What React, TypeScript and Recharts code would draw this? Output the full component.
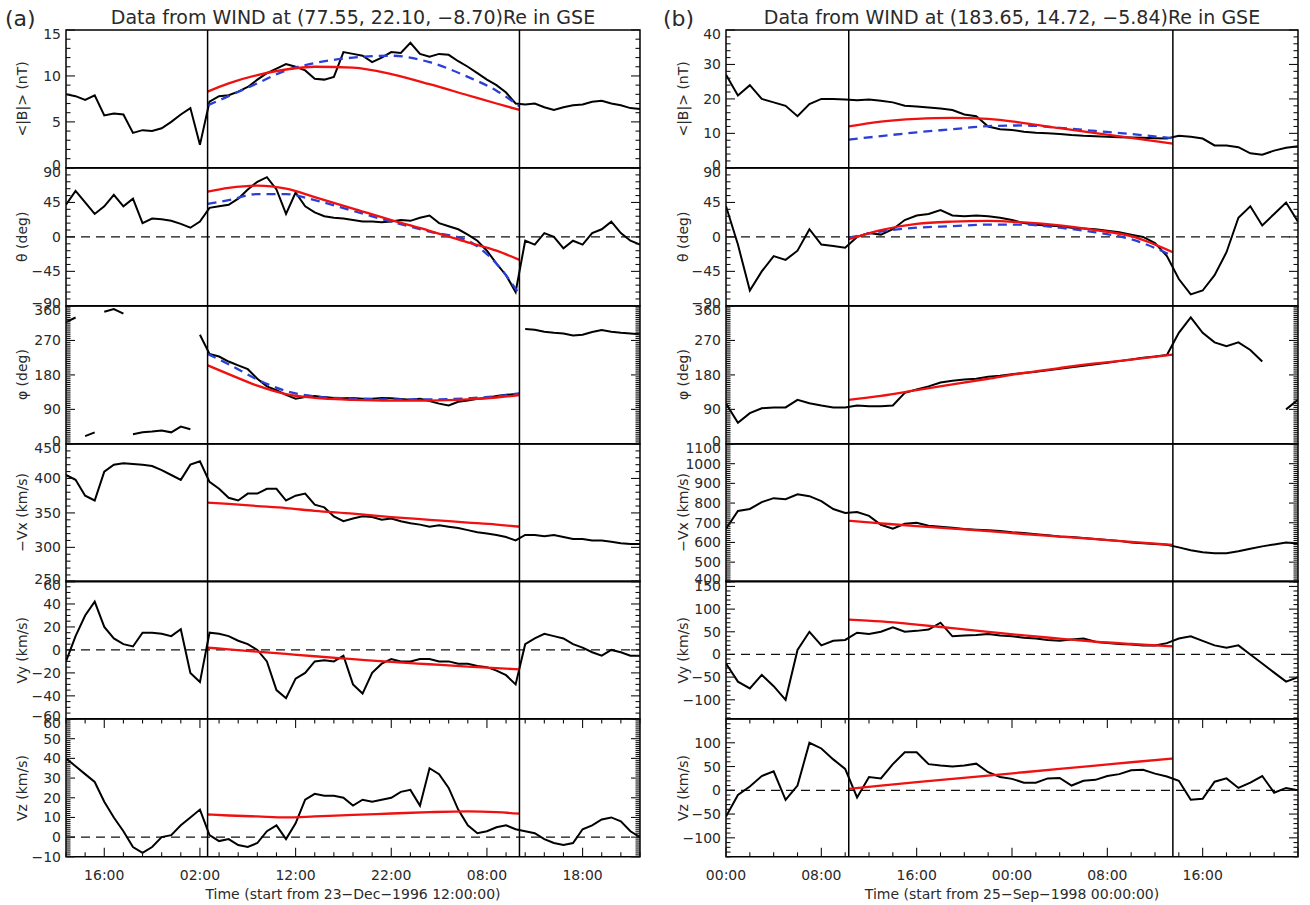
import React from 'react';
import { ComposedChart, Line, XAxis, YAxis, ReferenceLine, ReferenceArea } from 'recharts';

// ---------------- time grids (hours) ----------------
// (a) hours since 23-Dec-1996 12:00:00 ; (b) hours since 25-Sep-1998 00:00:00
const hoursA: number[] = Array.from({ length: 61 }, (_, i) => i);
const hoursB: number[] = Array.from({ length: 49 }, (_, i) => i);
const fitHoursA = [14.8, 17, 20, 23, 26, 30, 34, 38, 42, 45, 47.4];
const fitHoursB = [10.3, 13, 16, 19, 22, 25, 28, 31, 34, 37.5];
const mcBoundsA = [14.8, 47.4];
const mcBoundsB = [10.3, 37.5];

// ---------------- x tick labels ----------------
const xMajorA = [4, 14, 24, 34, 44, 54];
const xLabelsA = ['16:00', '02:00', '12:00', '22:00', '08:00', '18:00'];
const xMajorB = [0, 8, 16, 24, 32, 40, 48];
const xLabelsB = ['00:00', '08:00', '16:00', '00:00', '08:00', '16:00', ''];

// ---------------- (a) observed ----------------
const bA = [8.0, 7.8, 7.4, 7.9, 5.7, 5.9, 5.8, 3.8, 4.1, 4.0,
  4.3, 5.0, 5.8, 6.5, 2.5, 7.2, 7.8, 7.9, 8.3, 8.8,
  9.6, 10.3, 10.8, 11.3, 11.0, 10.6, 9.7, 9.6, 9.9, 12.6,
  12.4, 12.2, 11.5, 12.0, 12.6, 12.5, 13.6, 12.4, 12.1, 12.4,
  12.3, 11.6, 11.0, 10.3, 9.6, 9.0, 8.2, 7.0, 6.9, 7.0,
  6.6, 6.3, 6.6, 6.8, 6.9, 7.2, 7.3, 7.0, 6.8, 6.5, 6.4];
const thetaA = [42, 60, 45, 30, 40, 55, 40, 50, 18, 24,
  23, 21, 17, 12, 20, 38, 40, 42, 50, 62,
  72, 78, 62, 30, 58, 40, 32, 27, 25, 24,
  22, 20, 20, 19, 20, 22, 21, 25, 28, 18,
  14, 10, 3, -5, -18, -35, -50, -72, -5, -10,
  5, 0, -15, -5, -10, 5, 10, 20, 5, -5, -10];
const phiHighA = [318, 330, null, null, 345, 352, 340, null, null, null,
  null, null, null, null, 285, 235, 228, 215, 205, 195,
  170, 150, 140, 128, 118, 122, 125, 122, 120, 119,
  120, 118, 118, 120, 119, 117, 115, 118, 112, 105,
  100, 110, 113, 118, 120, 125, 128, null, 300, 298,
  293, 290, 288, 283, 285, 292, 297, 293, 290, 288, 286];
const phiLowA = [null, null, 20, 30, null, null, null, 25, 30, 32,
  35, 30, 45, 38, null, null, null, null, null, null,
  null, null, null, null, null, null, null, null, null, null,
  null, null, null, null, null, null, null, null, null, null,
  null, null, null, null, null, null, 128, 130, null, null,
  null, null, null, null, null, null, null, null, null, null, null];
const vxA = [405, 398, 375, 368, 410, 420, 422, 421, 420, 418,
  412, 405, 398, 420, 425, 395, 385, 372, 368, 378,
  378, 385, 385, 368, 375, 378, 362, 358, 345, 338,
  342, 345, 344, 340, 342, 338, 335, 333, 330, 332,
  330, 328, 325, 322, 320, 318, 315, 310, 318, 318,
  316, 318, 315, 312, 312, 310, 310, 308, 306, 305, 305];
const vyA = [-10, 12, 30, 42, 20, 10, 5, 3, 15, 15,
  14, 12, 18, -20, -28, 15, 14, 12, 8, 5,
  0, -10, -35, -42, -25, -20, -10, -9, -10, -5,
  -30, -38, -20, -12, -8, -10, -10, -8, -8, -10,
  -10, -12, -12, -14, -15, -18, -22, -30, 5, 10,
  14, 12, 10, 5, 2, -2, -5, 0, -2, -5, -5];
const vzA = [40, 36, 32, 28, 18, 10, 3, -5, -8, -5,
  0, 1, 6, 10, 14, 1, -2, -1, -4, -5,
  -3, 3, 6, -1, 7, 19, 22, 21, 21, 20,
  16, 19, 18, 19, 20, 23, 24, 16, 35, 32,
  25, 14, 6, 2, 3, 5, 6, 4, 3, 2,
  -1, -3, -4, -3, 4, 6, 9, 10, 8, 3, 0];

// ---------------- (a) fits ----------------
const bRedA = [8.3, 9.2, 10.1, 10.7, 11.0, 10.9, 10.2, 9.1, 7.9, 7.0, 6.3];
const bBlueA = [6.8, 7.8, 9.2, 10.6, 11.4, 12.0, 12.2, 11.5, 9.9, 8.4, 6.7];
const thetaRedA = [59, 64, 67, 63, 52, 37, 22, 8, -7, -18, -30];
const thetaBlueA = [43, 48, 56, 56, 48, 34, 20, 7, -5, -35, -75];
const phiRedA = [205, 182, 152, 130, 120, 115, 113, 113, 116, 121, 127];
const phiBlueA = [235, 208, 168, 138, 124, 118, 116, 116, 119, 124, 132];
const vxRedA = [365, 363, 360, 357, 353, 349, 344, 340, 336, 333, 330];
const vyRedA = [2, 0.5, -1.5, -3.5, -5.5, -8, -10.5, -12.5, -14.5, -15.8, -17];
const vzRedA = [11.5, 11.0, 10.5, 10.0, 10.5, 11.3, 12.0, 12.7, 13.1, 12.7, 11.9];

// ---------------- (b) observed ----------------
const bB = [27, 21, 24, 20, 19, 18, 15, 18.5, 20, 20,
  19.8, 19.6, 19.8, 19.5, 19, 18, 17.8, 17.5, 17.2, 16.8,
  15.5, 15, 12, 11.2, 11, 10.5, 10.2, 10, 9.8, 9.5,
  9.3, 9.2, 9.0, 8.9, 8.8, 8.7, 8.6, 8.5, 9.3, 9.0,
  8.5, 6.5, 6.5, 6.0, 4.2, 3.8, 5.0, 5.8, 6.3];
const thetaB = [40, -10, -70, -45, -25, -30, -18, 10, -10, -12,
  -14, 0, 5, 3, 10, 22, 28, 30, 35, 28,
  27, 28, 27, 25, 22, 18, 16, 15, 14, 12,
  11, 10, 8, 6, 3, 0, -8, -25, -55, -75,
  -70, -50, -20, 25, 40, 15, 30, 45, 20];
const phiB = [105, 55, 80, 93, 95, 95, 115, 106, 100, 95,
  95, 100, 98, 98, 100, 133, 142, 150, 160, 165,
  168, 170, 175, 178, 182, 185, 188, 192, 196, 200,
  204, 208, 212, 216, 220, 225, 228, 232, 290, 330,
  290, 265, 255, 265, 245, 215, null, 90, 115];
const vxB = [670, 760, 770, 805, 825, 820, 845, 835, 810, 770,
  750, 755, 735, 690, 670, 695, 700, 685, 680, 675,
  668, 665, 662, 658, 652, 648, 642, 636, 630, 628,
  622, 618, 612, 608, 600, 596, 592, 588, 575, 560,
  550, 545, 545, 555, 568, 580, 590, 600, 595];
const vyB = [-20, -60, -75, -45, -70, -100, 10, 50, 20, 30,
  32, 48, 45, 50, 60, 50, 52, 55, 70, 40,
  42, 43, 45, 42, 40, 37, 35, 32, 30, 33,
  35, 28, 25, 23, 22, 20, 20, 25, 35, 40,
  30, 20, 15, 20, 0, -20, -40, -60, -50];
const vzB = [-55, -10, 8, 30, 40, -20, 10, 100, 88, 65,
  45, -15, 28, 25, 55, 80, 80, 55, 52, 50,
  52, 56, 38, 28, 24, 16, 16, 25, 26, 10,
  20, 22, 30, 34, 42, 43, 35, 29, 20, -20,
  -18, 18, 25, 5, 16, 30, -5, 5, 0];

// ---------------- (b) fits ----------------
const bRedB = [12, 13.4, 14.2, 14.5, 14.2, 13, 11.5, 10.1, 8.7, 7.0];
const bBlueB = [8.2, 9.2, 10.3, 11.2, 12.1, 12.3, 11.6, 10.7, 9.8, 8.6];
const thetaRedB = [-3, 9, 17, 20, 21, 19, 15, 9, 1, -20];
const thetaBlueB = [-1, 7, 12, 14, 16, 16, 12, 6, -3, -25];
const phiRedB = [115, 125, 140, 155, 170, 185, 198, 210, 220, 233];
const vxRedB = [710, 697, 683, 670, 657, 643, 630, 617, 603, 588];
const vyRedB = [77, 73, 66, 58, 50, 42, 35, 28, 23, 18];
const vzRedB = [3, 10, 17, 24, 31, 38, 45, 52, 59, 67];

// ---------------- y tick labels ----------------
const yMajorB1 = [0, 5, 10, 15];
const yMajorAng = [-90, -45, 0, 45, 90];
const yMajorPhi = [0, 90, 180, 270, 360];
const yMajorVxA = [250, 300, 350, 400, 450];
const yMajorVyA = [-60, -40, -20, 0, 20, 40, 60];
const yMajorVzA = [-10, 0, 10, 20, 30, 40, 50, 60];
const yMajorBB = [0, 10, 20, 30, 40];
const yMajorVxB = [400, 500, 600, 700, 800, 900, 1000, 1100];
const yMajorVyB = [-100, -50, 0, 50, 100, 150];
const yMajorVzB = [-100, -50, 0, 50, 100];

const yTitles = ['<|B|> (nT)', '\u03b8 (deg)', '\u03c6 (deg)', '\u2212Vx (km/s)', 'Vy (km/s)', 'Vz (km/s)'];

// ---------------- layout ----------------
const FONT = "'DejaVu Sans', sans-serif";
const TXT = '#2a2a2a';
const TOP = 30;
const BOTTOM = 857;
const PANEL_H = (BOTTOM - TOP) / 6;
const COLS = [
  { plotLeft: 66, plotRight: 640, xDomain: [0, 60] as [number, number], xStep: 2 },
  { plotLeft: 726, plotRight: 1298, xDomain: [0, 48] as [number, number], xStep: 2 },
];
const AXIS_W = 60;
const PAD = 10;
const XLAB_H = 30;

type Spec = {
  domain: [number, number];
  major: number[];
  minorStep: number;
  obs: (number | null)[][];
  red?: number[];
  blue?: number[];
  zero?: boolean;
};

const fmt = (v: number) => (v < 0 ? '\u2212' + Math.abs(v) : String(v));

function minorTicks(domain: [number, number], step: number): number[] {
  const start = Math.ceil(domain[0] / step);
  const end = Math.floor(domain[1] / step);
  const out: number[] = [];
  for (let k = start; k <= end; k++) out.push(Math.round(k * step * 1000) / 1000);
  return out;
}

function Panel({ colIdx, row, spec }: { colIdx: number; row: number; spec: Spec }) {
  const col = COLS[colIdx];
  const plotW = col.plotRight - col.plotLeft;
  const last = row === 5;
  const top = TOP + row * PANEL_H;
  const width = AXIS_W + plotW + PAD;
  const height = PAD + PANEL_H + (last ? XLAB_H + PAD : PAD);
  const hours = colIdx === 0 ? hoursA : hoursB;
  const fitHours = colIdx === 0 ? fitHoursA : fitHoursB;
  const bounds = colIdx === 0 ? mcBoundsA : mcBoundsB;
  const xMajor = colIdx === 0 ? xMajorA : xMajorB;
  const xLabels = colIdx === 0 ? xLabelsA : xLabelsB;

  const yTicks = Array.from(new Set([...minorTicks(spec.domain, spec.minorStep), ...spec.major])).sort((a, b) => a - b);
  const xTicks = minorTicks(col.xDomain, col.xStep);

  const obsData = spec.obs.map((arr) => hours.map((t, i) => ({ t, v: arr[i] })));
  const redData = spec.red ? fitHours.map((t, i) => ({ t, v: spec.red![i] })) : null;
  const blueData = spec.blue ? fitHours.map((t, i) => ({ t, v: spec.blue![i] })) : null;

  const YTick = (p: any) => {
    const { x, y, payload } = p;
    const idx = spec.major.findIndex((m) => Math.abs(m - payload.value) < 1e-6);
    const len = idx >= 0 ? 9 : 4.5;
    let nudge = 0;
    if (idx >= 0 && Math.abs(payload.value - spec.domain[1]) < 1e-6) nudge = 4;
    if (idx >= 0 && !last && Math.abs(payload.value - spec.domain[0]) < 1e-6) nudge = -3;
    return (
      <g>
        <line x1={x} x2={x + len} y1={y} y2={y} stroke="#111" strokeWidth={1.1} />
        <line x1={x + plotW} x2={x + plotW - len} y1={y} y2={y} stroke="#111" strokeWidth={1.1} />
        {idx >= 0 && (
          <text x={x - 5} y={y + nudge} dy="0.36em" textAnchor="end" fontSize={14} fill={TXT} fontFamily={FONT}>
            {fmt(spec.major[idx])}
          </text>
        )}
      </g>
    );
  };

  const XTick = (p: any) => {
    const { x, y, payload } = p;
    const idx = xMajor.findIndex((m) => Math.abs(m - payload.value) < 1e-6);
    const len = idx >= 0 ? 9 : 4.5;
    return (
      <g>
        <line x1={x} x2={x} y1={y} y2={y - len} stroke="#111" strokeWidth={1.1} />
        <line x1={x} x2={x} y1={y - PANEL_H} y2={y - PANEL_H + len} stroke="#111" strokeWidth={1.1} />
        {last && idx >= 0 && xLabels[idx] !== '' && (
          <text x={x} y={y + 23} textAnchor="middle" fontSize={14} fill={TXT} fontFamily={FONT}>
            {xLabels[idx]}
          </text>
        )}
      </g>
    );
  };

  return (
    <div style={{ position: 'absolute', left: col.plotLeft - AXIS_W, top: top - PAD, width, height }}>
      <ComposedChart width={width} height={height} margin={{ top: PAD, right: PAD, bottom: PAD, left: 0 }}>
        <XAxis
          type="number"
          dataKey="t"
          domain={col.xDomain}
          ticks={xTicks}
          interval={0}
          allowDataOverflow
          height={last ? XLAB_H : 0}
          axisLine={false}
          tickLine={false}
          tickSize={0}
          tickMargin={0}
          tick={XTick}
        />
        <YAxis
          type="number"
          domain={spec.domain}
          ticks={yTicks}
          interval={0}
          allowDataOverflow
          width={AXIS_W}
          axisLine={false}
          tickLine={false}
          tickSize={0}
          tickMargin={0}
          tick={YTick}
        />
        {spec.zero && <ReferenceLine y={0} stroke="#111" strokeWidth={1.3} strokeDasharray="9 6" />}
        {obsData.map((d, i) => (
          <Line
            key={'o' + i}
            data={d}
            dataKey="v"
            type="linear"
            stroke="#000"
            strokeWidth={2}
            dot={false}
            connectNulls={false}
            isAnimationActive={false}
          />
        ))}
        {blueData && (
          <Line data={blueData} dataKey="v" type="monotone" stroke="#2a3fd8" strokeWidth={2.3} strokeDasharray="9 6" dot={false} isAnimationActive={false} />
        )}
        {redData && (
          <Line data={redData} dataKey="v" type="monotone" stroke="#f01010" strokeWidth={2.3} dot={false} isAnimationActive={false} />
        )}
        {bounds.map((b) => (
          <ReferenceLine key={'v' + b} x={b} stroke="#000" strokeWidth={1.5} />
        ))}
        <ReferenceArea
          x1={col.xDomain[0]}
          x2={col.xDomain[1]}
          y1={spec.domain[0]}
          y2={spec.domain[1]}
          fill="none"
          fillOpacity={0}
          stroke="#000"
          strokeWidth={1.5}
          ifOverflow="visible"
        />
      </ComposedChart>
    </div>
  );
}

const specsA: Spec[] = [
  { domain: [0, 15], major: yMajorB1, minorStep: 1, obs: [bA], red: bRedA, blue: bBlueA },
  { domain: [-90, 90], major: yMajorAng, minorStep: 9, obs: [thetaA], red: thetaRedA, blue: thetaBlueA, zero: true },
  { domain: [0, 360], major: yMajorPhi, minorStep: 5, obs: [phiHighA, phiLowA], red: phiRedA, blue: phiBlueA },
  { domain: [250, 450], major: yMajorVxA, minorStep: 10, obs: [vxA], red: vxRedA },
  { domain: [-60, 60], major: yMajorVyA, minorStep: 5, obs: [vyA], red: vyRedA, zero: true },
  { domain: [-10, 60], major: yMajorVzA, minorStep: 1, obs: [vzA], red: vzRedA, zero: true },
];
const specsB: Spec[] = [
  { domain: [0, 40], major: yMajorBB, minorStep: 2, obs: [bB], red: bRedB, blue: bBlueB },
  { domain: [-90, 90], major: yMajorAng, minorStep: 9, obs: [thetaB], red: thetaRedB, blue: thetaBlueB, zero: true },
  { domain: [0, 360], major: yMajorPhi, minorStep: 5, obs: [phiB], red: phiRedB },
  { domain: [400, 1100], major: yMajorVxB, minorStep: 10, obs: [vxB], red: vxRedB },
  { domain: [-142, 162], major: yMajorVyB, minorStep: 10, obs: [vyB], red: vyRedB, zero: true },
  { domain: [-140, 150], major: yMajorVzB, minorStep: 10, obs: [vzB], red: vzRedB, zero: true },
];

export default function App() {
  const labelX = [22, 683];
  const centers = [(COLS[0].plotLeft + COLS[0].plotRight) / 2, (COLS[1].plotLeft + COLS[1].plotRight) / 2];
  return (
    <div style={{ position: 'absolute', left: 0, top: 0, width: 1310, height: 905, background: '#fff', overflow: 'hidden' }}>
      {specsA.map((s, r) => (
        <Panel key={'a' + r} colIdx={0} row={r} spec={s} />
      ))}
      {specsB.map((s, r) => (
        <Panel key={'b' + r} colIdx={1} row={r} spec={s} />
      ))}
      <svg width={1310} height={905} style={{ position: 'absolute', left: 0, top: 0, pointerEvents: 'none' }}>
        <text x={5} y={26} fontSize={22} fill={TXT} fontFamily={FONT}>(a)</text>
        <text x={centers[0]} y={24} fontSize={19} fill={TXT} fontFamily={FONT} textAnchor="middle">
          Data from WIND at (77.55, 22.10, {'\u2212'}8.70)Re in GSE
        </text>
        <text x={663} y={26} fontSize={22} fill={TXT} fontFamily={FONT}>(b)</text>
        <text x={centers[1]} y={24} fontSize={19} fill={TXT} fontFamily={FONT} textAnchor="middle">
          Data from WIND at (183.65, 14.72, {'\u2212'}5.84)Re in GSE
        </text>
        {[0, 1].map((c) =>
          yTitles.map((t, r) => {
            const cy = TOP + (r + 0.5) * PANEL_H;
            return (
              <text
                key={c + '-' + r}
                x={labelX[c]}
                y={cy}
                fontSize={14}
                fill={TXT}
                fontFamily={FONT}
                textAnchor="middle"
                dominantBaseline="central"
                transform={`rotate(-90 ${labelX[c]} ${cy})`}
              >
                {t}
              </text>
            );
          })
        )}
        <text x={centers[0]} y={899} fontSize={14} fill={TXT} fontFamily={FONT} textAnchor="middle">
          Time (start from 23{'\u2212'}Dec{'\u2212'}1996 12:00:00)
        </text>
        <text x={centers[1]} y={899} fontSize={14} fill={TXT} fontFamily={FONT} textAnchor="middle">
          Time (start from 25{'\u2212'}Sep{'\u2212'}1998 00:00:00)
        </text>
      </svg>
    </div>
  );
}
